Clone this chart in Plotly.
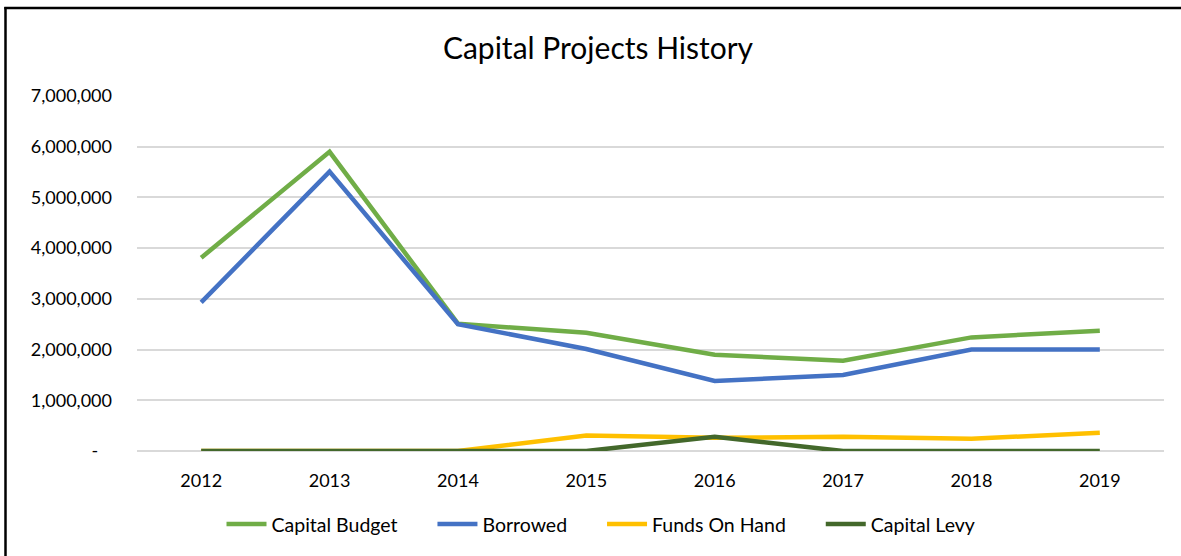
import plotly.graph_objects as go

years = ["2012", "2013", "2014", "2015", "2016", "2017", "2018", "2019"]
capital_budget = [3810000, 5900000, 2510000, 2330000, 1900000, 1780000, 2240000, 2370000]
borrowed = [2930000, 5510000, 2500000, 2010000, 1380000, 1500000, 2000000, 2000000]
funds_on_hand = [0, 0, 0, 305000, 260000, 280000, 240000, 360000]
capital_levy = [0, 0, 0, 0, 280000, 0, 0, 0]

tick_vals = [0, 1000000, 2000000, 3000000, 4000000, 5000000, 6000000, 7000000]
tick_text = ["-   ", "1,000,000", "2,000,000", "3,000,000", "4,000,000", "5,000,000", "6,000,000", "7,000,000"]

series_names = ["Capital Budget", "Borrowed", "Funds On Hand", "Capital Levy"]
series_values = [capital_budget, borrowed, funds_on_hand, capital_levy]
series_colors = ["#70AD47", "#4472C4", "#FFC000", "#43682B"]

FONT = "Lato"
PAD = "\u00a0" * 6

fig = go.Figure()
for i, (name, vals, color) in enumerate(zip(series_names, series_values, series_colors)):
    label = name + (PAD if i < len(series_names) - 1 else "")
    fig.add_trace(go.Scatter(
        x=years, y=vals, name=label, mode="lines",
        line=dict(color=color, width=4.5),
    ))

W, H = 1181, 556
L, R, T, B = 137, 17, 96, 104.5
pw, ph = W - L - R, H - T - B

def px_x(p):
    return (p - L) / pw

def px_y(p):
    return (H - B - p) / ph

fig.update_layout(
    width=W, height=H,
    margin=dict(l=L, r=R, t=T, b=B),
    paper_bgcolor="white", plot_bgcolor="white",
    font=dict(family=FONT, color="#000000", size=18),
    title=dict(text="Capital Projects History", x=598 / W, xanchor="center",
               y=1 - 48 / H, yanchor="middle", font=dict(size=30, family=FONT, color="#000000")),
    showlegend=True,
    legend=dict(orientation="h", x=px_x(601), xanchor="center", y=px_y(525), yanchor="middle",
                font=dict(size=19.5, family=FONT), itemwidth=40, tracegroupgap=0),
    xaxis=dict(type="category", range=[-0.5, 7.5], showgrid=False, showline=False,
               zeroline=False, ticks="", tickfont=dict(size=18), ticklabelstandoff=17),
    yaxis=dict(range=[0, 7000000], tickvals=tick_vals, ticktext=tick_text,
               showgrid=True, gridcolor="#D9D9D9", gridwidth=1.5, zeroline=True,
               zerolinecolor="#D9D9D9", zerolinewidth=1.5, showline=False, ticks="",
               tickfont=dict(size=18), ticklabelstandoff=24),
    shapes=[
        dict(type="line", xref="paper", yref="paper",
             x0=px_x(5.5), x1=px_x(5.5), y0=px_y(570), y1=px_y(6.8),
             line=dict(color="#000000", width=2.5), layer="above"),
        dict(type="line", xref="paper", yref="paper",
             x0=px_x(4.3), x1=px_x(1200), y0=px_y(8), y1=px_y(8),
             line=dict(color="#000000", width=2.5), layer="above"),
    ],
)

fig.write_html("out.html", config={"displayModeBar": False},
               post_script="document.body.style.margin='0';document.body.style.padding='0';")
